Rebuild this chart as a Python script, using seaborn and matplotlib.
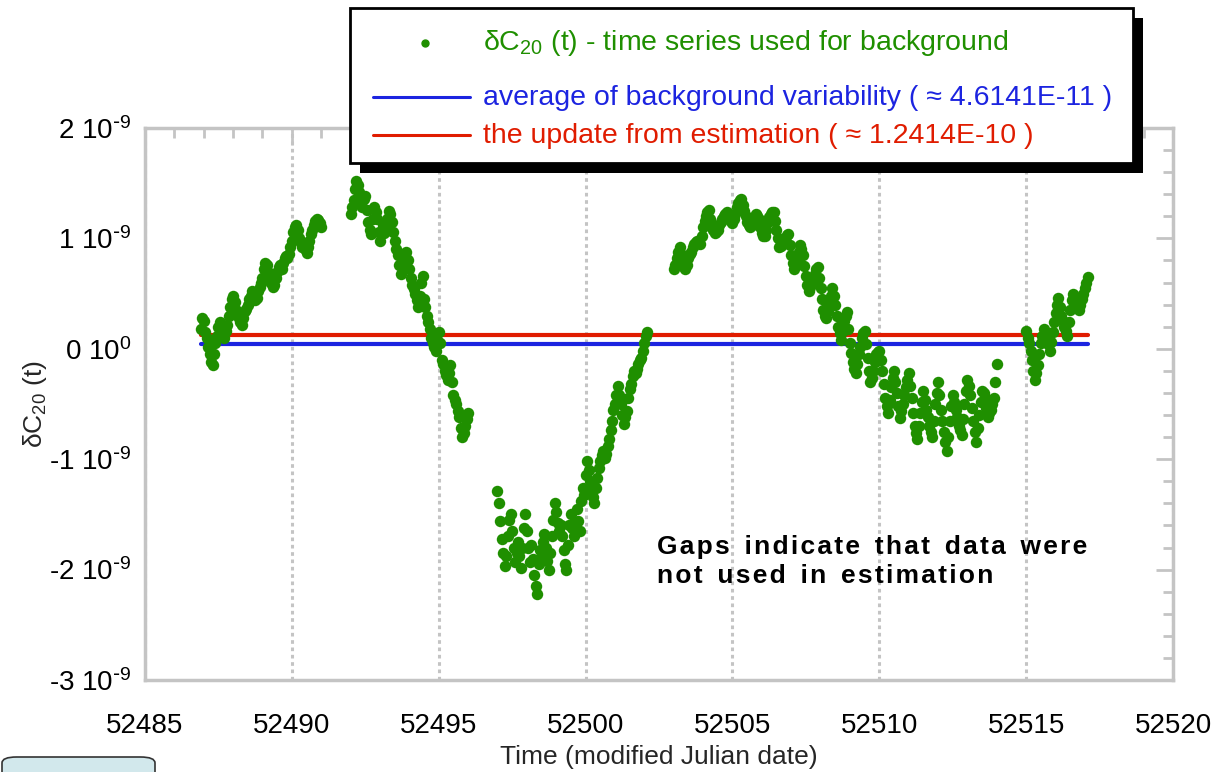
import numpy as np
import pandas as pd
import matplotlib
matplotlib.use("Agg")
import matplotlib.pyplot as plt
import seaborn as sns
from matplotlib.lines import Line2D
from matplotlib.patches import FancyBboxPatch, Rectangle
from matplotlib.ticker import FixedLocator, MultipleLocator

# ---------------- data (dC20 in units of 1e-9, sampled every 0.05 day) ----------------
seg_start = [52486.9, 52492.0, 52497.0, 52503.0, 52515.0]
seg_end = [52491.0, 52496.0, 52502.1, 52514.0, 52517.1]

dc20_seg1 = [0.18, 0.28, 0.25, 0.15, 0.10, 0.02, -0.05, -0.12, -0.15, -0.05,
             0.05, 0.12, 0.20, 0.24, 0.15, 0.12, 0.10, 0.16, 0.22, 0.30,
             0.38, 0.45, 0.48, 0.42, 0.35, 0.30, 0.28, 0.24, 0.22, 0.28,
             0.34, 0.36, 0.40, 0.45, 0.48, 0.52, 0.50, 0.44, 0.46, 0.52,
             0.56, 0.60, 0.64, 0.72, 0.78, 0.76, 0.70, 0.64, 0.60, 0.56,
             0.58, 0.64, 0.70, 0.74, 0.76, 0.72, 0.78, 0.82, 0.84, 0.82,
             0.86, 0.92, 0.98, 1.06, 1.10, 1.12, 1.08, 1.00, 0.96, 0.92,
             0.95, 0.90, 0.87, 0.92, 0.98, 1.04, 1.08, 1.12, 1.16, 1.18,
             1.17, 1.14, 1.10]
dc20_seg2 = [1.22, 1.28, 1.35, 1.45, 1.52, 1.48, 1.42, 1.33, 1.28, 1.36,
             1.38, 1.26, 1.15, 1.08, 1.04, 1.18, 1.28, 1.24, 1.18, 1.06,
             0.98, 1.04, 1.12, 1.05, 1.08, 1.18, 1.25, 1.22, 1.15, 1.06,
             0.98, 0.90, 0.85, 0.76, 0.68, 0.74, 0.82, 0.86, 0.88, 0.80,
             0.72, 0.64, 0.58, 0.54, 0.50, 0.44, 0.38, 0.48, 0.60, 0.66,
             0.45, 0.38, 0.30, 0.24, 0.18, 0.10, 0.05, 0.02, -0.02, 0.08,
             0.15, 0.05, -0.10, -0.14, -0.20, -0.24, -0.28, -0.22, -0.15, -0.30,
             -0.42, -0.46, -0.50, -0.56, -0.62, -0.72, -0.80, -0.76, -0.70, -0.64,
             -0.58]
dc20_seg3 = [-1.29, -1.40, -1.56, -1.72, -1.85, -1.97, -1.88, -1.70, -1.55, -1.50,
             -1.65, -1.80, -1.93, -1.85, -1.75, -1.88, -1.99, -1.80, -1.62, -1.50,
             -1.65, -1.80, -1.93, -1.78, -1.90, -2.05, -2.15, -2.22, -1.95, -1.82,
             -1.88, -1.75, -1.68, -1.80, -1.92, -2.00, -1.85, -1.70, -1.55, -1.40,
             -1.48, -1.58, -1.65, -1.60, -1.70, -1.82, -1.95, -2.00, -1.78, -1.60,
             -1.50, -1.62, -1.70, -1.58, -1.45, -1.56, -1.65, -1.38, -1.26, -1.32,
             -1.14, -1.02, -1.10, -1.20, -1.28, -1.34, -1.40, -1.26, -1.17, -1.08,
             -1.02, -0.96, -0.93, -0.99, -0.95, -0.88, -0.82, -0.74, -0.65, -0.55,
             -0.50, -0.42, -0.34, -0.42, -0.50, -0.60, -0.68, -0.62, -0.56, -0.45,
             -0.36, -0.32, -0.25, -0.20, -0.22, -0.18, -0.14, -0.10, -0.08, -0.02,
             0.05, 0.12, 0.15]
dc20_seg4 = [0.72, 0.76, 0.82, 0.88, 0.92, 0.86, 0.80, 0.74, 0.72, 0.76,
             0.82, 0.86, 0.88, 0.92, 0.95, 0.97, 0.98, 0.96, 0.95, 1.02,
             1.10, 1.16, 1.20, 1.24, 1.26, 1.18, 1.12, 1.08, 1.05, 1.06,
             1.08, 1.12, 1.15, 1.18, 1.20, 1.22, 1.24, 1.21, 1.18, 1.16,
             1.14, 1.18, 1.22, 1.28, 1.32, 1.35, 1.36, 1.30, 1.25, 1.20,
             1.15, 1.12, 1.10, 1.12, 1.15, 1.19, 1.22, 1.20, 1.18, 1.10,
             1.05, 1.02, 1.02, 1.08, 1.15, 1.19, 1.22, 1.24, 1.24, 1.16,
             1.08, 1.00, 0.92, 0.93, 0.95, 0.98, 1.00, 1.03, 1.04, 0.94,
             0.85, 0.78, 0.72, 0.76, 0.80, 0.88, 0.94, 0.90, 0.85, 0.75,
             0.66, 0.58, 0.52, 0.56, 0.60, 0.64, 0.68, 0.72, 0.74, 0.64,
             0.55, 0.45, 0.35, 0.30, 0.28, 0.34, 0.40, 0.48, 0.55, 0.48,
             0.40, 0.30, 0.20, 0.14, 0.08, 0.16, 0.25, 0.30, 0.33, 0.18,
             0.05, -0.04, -0.12, -0.18, -0.22, -0.14, -0.05, 0.02, 0.10, 0.14,
             0.16, 0.04, -0.08, -0.20, -0.30, -0.26, -0.20, -0.12, -0.05, -0.03,
             -0.02, -0.10, -0.20, -0.32, -0.45, -0.52, -0.58, -0.46, -0.35, -0.26,
             -0.20, -0.30, -0.40, -0.52, -0.63, -0.56, -0.50, -0.42, -0.35, -0.28,
             -0.22, -0.34, -0.45, -0.58, -0.70, -0.76, -0.82, -0.70, -0.58, -0.48,
             -0.38, -0.46, -0.55, -0.62, -0.70, -0.75, -0.80, -0.65, -0.50, -0.40,
             -0.30, -0.42, -0.55, -0.65, -0.75, -0.84, -0.93, -0.80, -0.65, -0.52,
             -0.42, -0.48, -0.55, -0.62, -0.70, -0.74, -0.78, -0.64, -0.50, -0.38,
             -0.28, -0.34, -0.42, -0.54, -0.65, -0.75, -0.84, -0.72, -0.60, -0.48,
             -0.38, -0.40, -0.45, -0.54, -0.62, -0.58, -0.55, -0.50, -0.45, -0.30,
             -0.14]
dc20_seg5 = [0.16, 0.10, 0.05, -0.02, -0.10, -0.20, -0.28, -0.22, -0.15, -0.05,
             0.05, 0.12, 0.18, 0.14, 0.10, 0.04, -0.02, 0.06, 0.15, 0.24,
             0.32, 0.40, 0.46, 0.38, 0.30, 0.25, 0.20, 0.16, 0.12, 0.24,
             0.35, 0.44, 0.50, 0.46, 0.42, 0.38, 0.35, 0.40, 0.45, 0.50,
             0.55, 0.60, 0.65]

avg_background = 4.6141e-11
update_estimation = 1.2414e-10

x_ticks = [52485, 52490, 52495, 52500, 52505, 52510, 52515, 52520]
y_ticks = [-3e-9, -2e-9, -1e-9, 0.0, 1e-9, 2e-9]
y_tick_labels = [r"-3 10$^{\text{-}9}$", r"-2 10$^{\text{-}9}$", r"-1 10$^{\text{-}9}$",
                 r"0 10$^{0}$", r"1 10$^{\text{-}9}$", r"2 10$^{\text{-}9}$"]

label_series = "δC$_{20}$ (t) - time series used for background"
label_avg = "average of background variability ( ≈ 4.6141E-11 )"
label_upd = "the update from estimation ( ≈ 1.2414E-10 )"

# ---------------- build frame ----------------
segs = [dc20_seg1, dc20_seg2, dc20_seg3, dc20_seg4, dc20_seg5]
mjd = np.concatenate([np.linspace(s, e, len(v)) for s, e, v in zip(seg_start, seg_end, segs)])
vals = np.concatenate([np.array(v) for v in segs]) * 1e-9
df = pd.DataFrame({"mjd": mjd, "dc20": vals})

GREEN = "#1f8f00"
BLUE = "#1c24e0"
RED = "#e01c00"

sns.set_theme(style="white")
plt.rcParams["font.family"] = ["Liberation Sans", "DejaVu Sans"]
plt.rcParams["mathtext.default"] = "regular"

W, H = 1218, 772
fig = plt.figure(figsize=(W / 100, H / 100), dpi=100)
ax = fig.add_axes([145 / W, 1 - 680 / H, (1173 - 145) / W, (680 - 128) / H])

x_line = [df["mjd"].min(), df["mjd"].max()]
sns.lineplot(x=x_line, y=[avg_background] * 2, color=BLUE, lw=3, ax=ax, zorder=2)
sns.lineplot(x=x_line, y=[update_estimation] * 2, color=RED, lw=3, ax=ax, zorder=2)
sns.scatterplot(data=df, x="mjd", y="dc20", s=68, color=GREEN, linewidth=0,
                ax=ax, zorder=3, legend=False)

ax.set_xlim(52485, 52520)
ax.set_ylim(-3e-9, 2e-9)
ax.xaxis.set_major_locator(FixedLocator(x_ticks))
ax.xaxis.set_minor_locator(MultipleLocator(1))
ax.set_xticklabels([str(t) for t in x_ticks])
ax.yaxis.set_major_locator(FixedLocator(y_ticks))
ax.yaxis.set_minor_locator(MultipleLocator(0.2e-9))
ax.set_yticklabels(y_tick_labels)
ax.yaxis.get_offset_text().set_visible(False)

GRAY = "#c4c4c4"
for sp in ax.spines.values():
    sp.set_color(GRAY)
    sp.set_linewidth(2.5)
ax.tick_params(which="both", direction="in", top=True, right=True,
               color=GRAY, width=2, labelcolor="black")
ax.tick_params(which="major", length=12, labelsize=20)
ax.tick_params(axis="x", which="major", pad=24)
ax.tick_params(axis="y", which="major", pad=10)
ax.tick_params(which="minor", length=7)
ax.grid(axis="x", which="major", color=GRAY, linestyle=(0, (1.2, 1.2)), lw=2.2)
ax.grid(axis="y", visible=False)

ax.set_xlabel("Time (modified Julian date)", fontsize=19, labelpad=4)
ax.set_ylabel("δC$_{20}$ (t)", fontsize=19, labelpad=0)

HS = "\u200a"
line1 = "  ".join(HS.join(w) for w in "Gaps indicate that data were".split())
line2 = "  ".join(HS.join(w) for w in "not used in estimation".split())
ax.text(0.498, 0.2147, line1 + "\n" + line2,
        transform=ax.transAxes, fontsize=19, fontweight="bold", ha="left",
        va="center", linespacing=1.3, color="black",
        family=["Liberation Sans", "DejaVu Sans"])

# ---------------- legend box (figure pixel layout) ----------------
def fx(px):
    return px / W


def fy(py):
    return 1 - py / H


fig.add_artist(Rectangle((fx(360), fy(173)), fx(1143) - fx(360), fy(18) - fy(173),
                         transform=fig.transFigure, fc="black", ec="none", zorder=10))
fig.add_artist(Rectangle((fx(350), fy(163)), fx(1133) - fx(350), fy(8) - fy(163),
                         transform=fig.transFigure, fc="white", ec="black", lw=2, zorder=11))
fig.add_artist(Line2D([fx(425)], [fy(43)], marker="o", ls="", color=GREEN,
                      markersize=5, transform=fig.transFigure, zorder=12))
fig.add_artist(Line2D([fx(373), fx(470)], [fy(97)] * 2, color=BLUE, lw=2.2,
                      transform=fig.transFigure, zorder=12))
fig.add_artist(Line2D([fx(373), fx(470)], [fy(135)] * 2, color=RED, lw=2.2,
                      transform=fig.transFigure, zorder=12))
for txt, col, base in [(label_series, GREEN, 50), (label_avg, BLUE, 105), (label_upd, RED, 143)]:
    fig.text(fx(483), fy(base), txt, color=col, fontsize=20.5, ha="left", va="baseline",
             zorder=13)

fig.add_artist(FancyBboxPatch((2 / W, -0.03), 153 / W, 0.03 + (772 - 757) / H,
                              boxstyle="round,pad=0,rounding_size=0.012",
                              mutation_aspect=H / W,
                              transform=fig.transFigure, fc="#d2e8ec",
                              ec="#333333", lw=1.2, clip_on=False))

fig.savefig("out.png", dpi=100)
